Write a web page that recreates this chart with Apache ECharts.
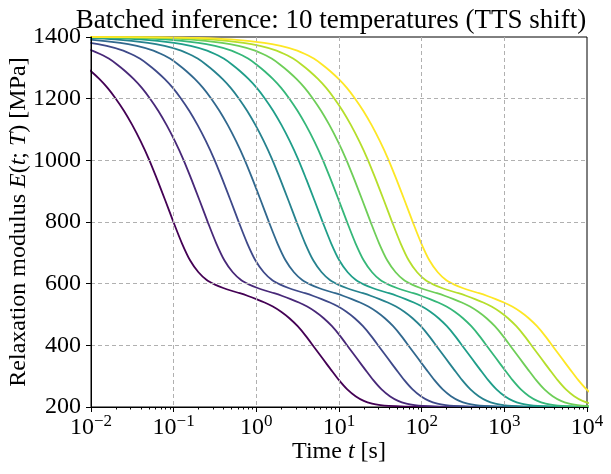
<!DOCTYPE html>
<html>
<head>
<meta charset="utf-8">
<script src="https://cdn.jsdelivr.net/npm/echarts@6/dist/echarts.min.js"></script>
<style>
  html, body { margin: 0; padding: 0; background: #fff; }
  #main { width: 611px; height: 474px; }
</style>
</head>
<body>
<div id="main"></div>
<script>
// master curve (log10 of time in s, modulus in MPa)
const MASTER_LOGT = [-5.0, -4.0, -3.6, -3.2, -2.8, -2.6, -2.4,
  -2.3, -2.2, -2.1, -2.0, -1.9, -1.8, -1.7, -1.6, -1.5, -1.4, -1.3, -1.2, -1.1, -1.0,
  -0.9, -0.8, -0.7, -0.6, -0.5, -0.4, -0.3, -0.2, -0.1, 0.0,
  0.1, 0.2, 0.3, 0.4, 0.5, 0.6, 0.7, 0.8, 0.9, 1.0, 1.1, 1.2, 1.3, 1.4, 1.5, 1.6,
  1.8, 2.0, 2.5, 4.2];
const MASTER_E = [1400, 1399, 1397, 1392, 1381, 1371, 1356,
  1344, 1330, 1311, 1289, 1264, 1235, 1200, 1160, 1114, 1062, 1004, 938, 869, 798,
  731, 675, 637, 612, 597, 586, 577, 569, 560, 550,
  539, 526, 509, 488, 462, 430, 394, 358, 322, 287, 257, 235, 220, 211, 206, 203.5,
  201.5, 200.8, 200.2, 200];
// horizontal shift of each temperature curve, in decades
const SHIFTS = [0, 0.415, 0.79, 1.155, 1.49, 1.805, 2.10, 2.385, 2.645, 2.895];
const TEMP_COLORS = ['#440154', '#482878', '#3e4989', '#31688e', '#26828e',
  '#1f9e89', '#35b779', '#6ece58', '#b5de2b', '#fde725'];
const X_MINOR = [];
for (let k = -2; k < 4; k++) {
  for (let m = 2; m <= 9; m++) X_MINOR.push(m * Math.pow(10, k));
}

const FONT = 'Liberation Serif';
const FS = 24;

let chart = echarts.init(document.getElementById('main'), null, { renderer: 'canvas' });

let series = SHIFTS.map(function (s, i) {
  return {
    name: 'T' + (i + 1),
    type: 'line',
    xAxisIndex: 0,
    data: MASTER_LOGT.map(function (lt, j) { return [Math.pow(10, lt + s), MASTER_E[j]]; }),
    showSymbol: false,
    smooth: 0.3,
    clip: true,
    lineStyle: { color: TEMP_COLORS[i], width: 1.8 },
    itemStyle: { color: TEMP_COLORS[i] },
    z: 3
  };
});

function expLabel(v) {
  let e = Math.round(Math.log10(v));
  return '{b|10}{e|' + (e < 0 ? '\u2212' + (-e) : e) + '}';
}

let italicRich = {
  n: { fontFamily: FONT, fontSize: FS, color: '#000' },
  i: { fontFamily: FONT, fontSize: FS, fontStyle: 'italic', color: '#000' }
};

chart.setOption({
  animation: false,
  backgroundColor: '#fff',
  title: {
    text: 'Batched inference: 10 temperatures (TTS shift)',
    left: 326,
    top: 2,
    textAlign: 'center',
    textStyle: { fontFamily: FONT, fontSize: 27, fontWeight: 'normal', color: '#000' }
  },
  grid: {
    left: 91, right: 24, top: 37, bottom: 67,
    outerBoundsMode: 'none',
    containLabel: false,
    show: true, borderColor: '#000', borderWidth: 1, backgroundColor: 'transparent'
  },
  xAxis: [{
    type: 'log',
    logBase: 10,
    min: 0.01,
    max: 10000,
    name: '{n|Time }{i|t}{n| [s]}',
    nameLocation: 'middle',
    nameGap: 33,
    nameMoveOverlap: false,
    nameTextStyle: { rich: italicRich },
    axisLine: { onZero: false, lineStyle: { color: '#000', width: 1 } },
    axisTick: { show: true, length: 5, inside: false, lineStyle: { color: '#000' } },
    axisLabel: {
      formatter: expLabel,
      margin: 6,
      rich: {
        b: { fontFamily: FONT, fontSize: FS, color: '#000' },
        e: { fontFamily: FONT, fontSize: 17, color: '#000', verticalAlign: 'top', padding: [0, 0, 12, 0] }
      }
    },
    splitLine: {
      show: true, showMinLine: false, showMaxLine: false,
      lineStyle: { color: '#b0b0b0', type: [4, 3], width: 1 }
    },
    minorTick: { show: false },
    z: 5
  }, {
    type: 'log',
    logBase: 10,
    min: 0.01,
    max: 10000,
    position: 'bottom',
    axisLine: { show: false },
    axisLabel: { show: false },
    splitLine: { show: false },
    axisTick: { show: true, length: 2.5, customValues: X_MINOR, lineStyle: { color: '#000' } }
  }],
  yAxis: {
    type: 'value',
    min: 200,
    max: 1400,
    interval: 200,
    name: '{n|Relaxation modulus }{i|E}{n|(}{i|t}{n|; }{i|T}{n|) [MPa]}',
    nameLocation: 'middle',
    nameGap: 60,
    nameRotate: 90,
    nameMoveOverlap: false,
    nameTextStyle: { rich: italicRich },
    axisLine: { show: true, lineStyle: { color: '#000', width: 1 } },
    axisTick: { show: true, length: 5, lineStyle: { color: '#000' } },
    axisLabel: {
      margin: 10,
      color: '#000',
      fontFamily: FONT,
      fontSize: FS,
      formatter: function (v) { return String(v); }
    },
    splitLine: {
      show: true, showMinLine: false, showMaxLine: false,
      lineStyle: { color: '#b0b0b0', type: [4, 3], width: 1 }
    },
    z: 5
  },
  series: series
});
</script>
</body>
</html>
